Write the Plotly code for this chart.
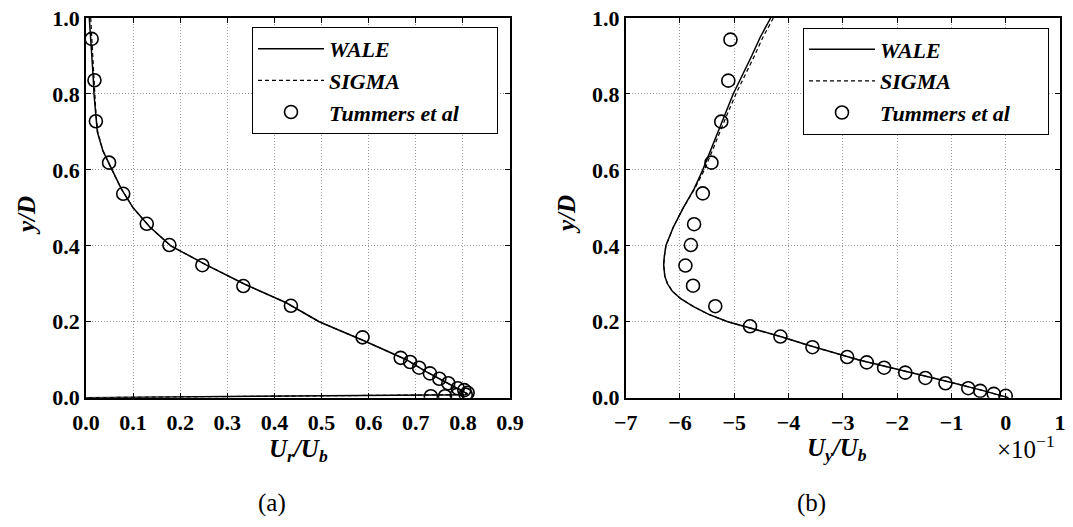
import plotly.graph_objects as go

SERIF = "Liberation Serif"
W, H = 1073, 527
OFF = 8  # page body margin around the figure
FW, FH = W - OFF, H - OFF


def px(x):
    return (x - OFF) / FW


def py(y):
    return 1 - (y - OFF) / FH


# ---- panel (a): radial velocity U_r/U_b ----
wale_a_x = [0.007, 0.010, 0.012, 0.015, 0.017, 0.020, 0.024, 0.036, 0.055, 0.075, 0.100,
            0.135, 0.180, 0.255, 0.335, 0.425, 0.495, 0.590, 0.680, 0.720, 0.750, 0.780,
            0.800, 0.810, 0.805, 0.700, 0.500, 0.300, 0.0]
wale_a_y = [1.0, 0.95, 0.90, 0.85, 0.80, 0.75, 0.70, 0.65, 0.60, 0.55, 0.50,
            0.45, 0.40, 0.35, 0.30, 0.25, 0.20, 0.15, 0.10, 0.07, 0.05, 0.03,
            0.015, 0.010, 0.008, 0.007, 0.005, 0.003, 0.0]
sigma_a_x = [0.010, 0.012, 0.014, 0.016, 0.018, 0.021, 0.025, 0.036, 0.055, 0.075, 0.100,
             0.135, 0.180, 0.255, 0.335, 0.425, 0.495, 0.590, 0.680, 0.720, 0.750, 0.780,
             0.800, 0.810, 0.805, 0.700, 0.500, 0.300, 0.0]
sigma_a_y = wale_a_y
exp_a_x = [0.012, 0.018, 0.021, 0.049, 0.079, 0.129, 0.177, 0.247, 0.334, 0.435, 0.587,
           0.668, 0.688, 0.707, 0.730, 0.750, 0.769, 0.789, 0.803, 0.810,
           0.732, 0.762, 0.787, 0.806]
exp_a_y = [0.945, 0.836, 0.728, 0.619, 0.537, 0.458, 0.402, 0.349, 0.294, 0.242, 0.159,
           0.105, 0.094, 0.079, 0.064, 0.050, 0.038, 0.025, 0.020, 0.013,
           0.004, 0.004, 0.007, 0.008]

# ---- panel (b): axial velocity U_y/U_b (x 10^-1) ----
wale_b_x = [-4.33, -4.52, -4.68, -4.85, -5.02, -5.16, -5.30, -5.44, -5.58, -5.74, -5.94,
            -6.12, -6.26, -6.29, -6.30, -6.28, -6.23, -6.14, -5.98, -5.75, -5.48,
            -5.12, -4.62, -4.12, -3.68, -3.22, -2.72, -2.15, -1.55, -1.00, -0.45, 0.05]
wale_b_y = [1.0, 0.95, 0.90, 0.85, 0.80, 0.75, 0.70, 0.65, 0.60, 0.55, 0.50,
            0.45, 0.40, 0.37, 0.35, 0.32, 0.30, 0.28, 0.26, 0.24, 0.22,
            0.20, 0.18, 0.16, 0.14, 0.12, 0.10, 0.08, 0.06, 0.04, 0.02, 0.0]
sigma_b_x = [-4.28, -4.47, -4.63, -4.80, -4.97, -5.12, -5.26, -5.41, -5.55, -5.73, -5.94,
             -6.12, -6.26, -6.29, -6.30, -6.28, -6.23, -6.14, -5.98, -5.75, -5.48,
             -5.12, -4.62, -4.12, -3.68, -3.22, -2.72, -2.15, -1.55, -1.00, -0.45, 0.05]
sigma_b_y = wale_b_y
exp_b_x = [-5.07, -5.11, -5.24, -5.42, -5.58, -5.74, -5.80, -5.90, -5.76, -5.35,
           -4.71, -4.15, -3.56, -2.92, -2.56, -2.24, -1.85, -1.48, -1.11, -0.69,
           -0.47, -0.22, 0.0]
exp_b_y = [0.943, 0.835, 0.727, 0.619, 0.538, 0.457, 0.402, 0.348, 0.295, 0.241,
           0.188, 0.161, 0.133, 0.107, 0.093, 0.079, 0.066, 0.052, 0.038, 0.025,
           0.018, 0.010, 0.005]

labels = ["<b><i>WALE</i></b>", "<b><i>SIGMA</i></b>",
          "<b><i>Tummers et al</i></b>" + "&nbsp;" * 6]

fig = go.Figure()

panels = [("x", "y", "legend", wale_a_x, wale_a_y, sigma_a_x, sigma_a_y, exp_a_x, exp_a_y),
          ("x2", "y2", "legend2", wale_b_x, wale_b_y, sigma_b_x, sigma_b_y, exp_b_x, exp_b_y)]
for xa, ya, leg, wx, wy, sx, sy, ex, ey in panels:
    fig.add_trace(go.Scatter(x=wx, y=wy, mode="lines", name=labels[0], xaxis=xa, yaxis=ya,
                             legend=leg, legendgroup=leg + "w",
                             line=dict(color="black", width=1.5)))
    fig.add_trace(go.Scatter(x=sx, y=sy, mode="lines", name=labels[1], xaxis=xa, yaxis=ya,
                             legend=leg, legendgroup=leg + "s",
                             line=dict(color="black", width=1.2, dash="4px,3px")))
    fig.add_trace(go.Scatter(x=ex, y=ey, mode="markers", name=labels[2], xaxis=xa, yaxis=ya,
                             legend=leg, legendgroup=leg + "e",
                             marker=dict(symbol="circle-open", size=13, color="black",
                                         line=dict(width=1.6, color="black"))))

axis_style = dict(showline=True, linecolor="black", linewidth=1.5, mirror="allticks",
                  ticks="inside", ticklen=5, tickcolor="black", showgrid=True,
                  gridcolor="#9a9a9a", griddash="1px,2px", gridwidth=1, zeroline=False,
                  automargin=False, ticklabeloverflow="allow",
                  tickfont=dict(family=SERIF, size=22, color="black", weight="bold"))

ydom = [py(397.7), py(18)]
fig.update_layout(
    width=FW, height=FH,
    margin=dict(l=0, r=0, t=0, b=0),
    paper_bgcolor="white", plot_bgcolor="white",
    xaxis=dict(domain=[px(86), px(510)], range=[0, 0.9], dtick=0.1, tickformat=".1f",
               anchor="y", ticklabelstandoff=4, **axis_style),
    yaxis=dict(domain=ydom, range=[0, 1], dtick=0.2, tickformat=".1f", anchor="x", **axis_style),
    xaxis2=dict(domain=[px(625.7), px(1060)], range=[-7, 1], dtick=1, anchor="y2",
                ticklabelstandoff=4, **axis_style),
    yaxis2=dict(domain=ydom, range=[0, 1], dtick=0.2, tickformat=".1f", anchor="x2", **axis_style),
)

legend_style = dict(xanchor="right", yanchor="top", bgcolor="white", bordercolor="black",
                    borderwidth=1, traceorder="grouped", tracegroupgap=0, itemwidth=66,
                    font=dict(family=SERIF, size=22, color="black"))
fig.update_layout(legend=dict(x=px(498), y=py(27), **legend_style),
                  legend2=dict(x=px(1049), y=py(27.5), **legend_style))

title_font = dict(family=SERIF, size=25, color="black")
ann = [
    dict(x=26, y=215, text="<b><i>y/D</i></b>", textangle=-90),
    dict(x=566, y=215, text="<b><i>y/D</i></b>", textangle=-90),
    dict(x=298, y=450, text="<b><i>U<sub>r</sub>/U<sub>b</sub></i></b>"),
    dict(x=837, y=449, text="<b><i>U<sub>y</sub>/U<sub>b</sub></i></b>"),
    dict(x=272, y=503, text="(a)"),
    dict(x=811, y=503, text="(b)"),
    dict(x=1026, y=447, text="×10<sup>−1</sup>"),
]
for a in ann:
    fig.add_annotation(x=px(a["x"]), y=py(a["y"]), xref="paper", yref="paper",
                       text=a["text"], showarrow=False, textangle=a.get("textangle", 0),
                       xanchor="center", yanchor="middle", font=title_font)

fig.write_html("out.html")
